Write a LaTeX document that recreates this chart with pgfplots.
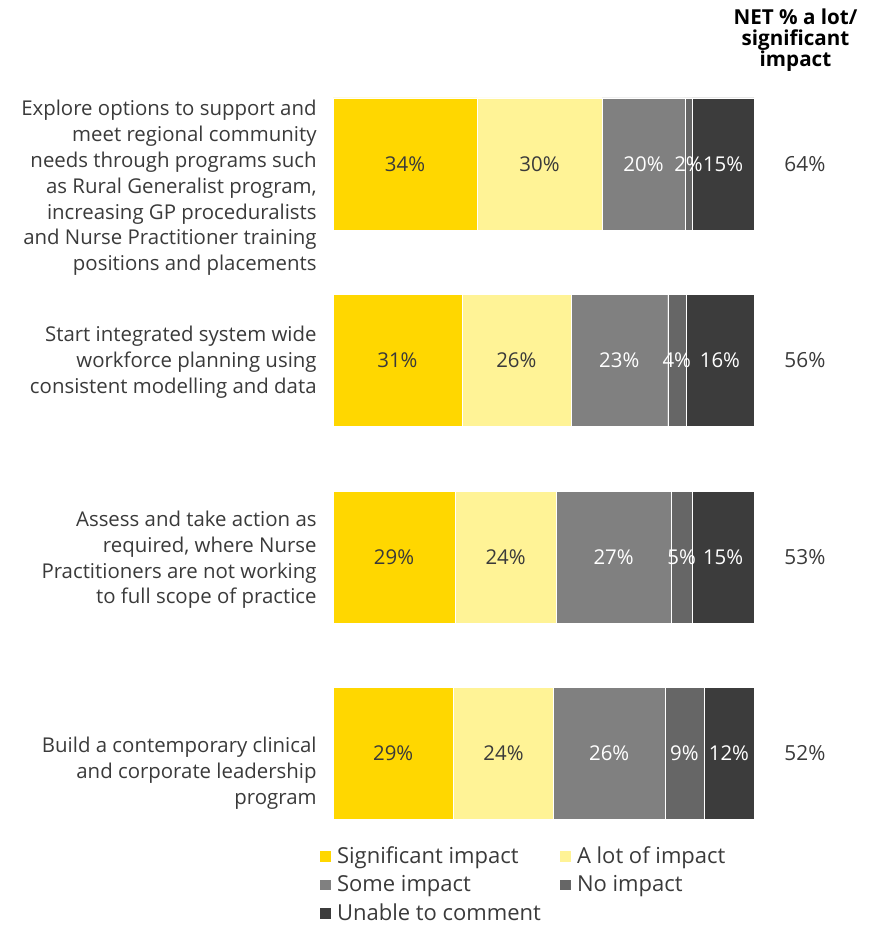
\documentclass[border=0pt]{standalone}
\usepackage{pgfplots}
\pgfplotsset{compat=1.18}
\usepackage{pgfplotstable}
\usepackage{fontspec}
\setmainfont{Open Sans}
\definecolor{sig}{HTML}{FFD700}
\definecolor{alot}{HTML}{FFF396}
\definecolor{some}{HTML}{808080}
\definecolor{noimp}{HTML}{666666}
\definecolor{unable}{HTML}{3C3C3C}
\definecolor{txt}{HTML}{3A3A3A}

\pgfplotstableread{
y sig alot some none unable
0 34.2 29.7 19.7 1.7 14.7
1 30.6 25.9 23.0 4.3 16.2
2 29.0 24.0 27.3 5.0 14.7
3 28.6 23.8 26.4 9.3 11.9
}\data

\begin{document}
\begin{tikzpicture}
\useasboundingbox (0,0) rectangle (438pt,462.5pt);
\begin{axis}[
  at={(166.5pt,36.625pt)}, anchor=south west,
  scale only axis, width=210.5pt, height=393pt,
  xbar stacked, bar width=66pt,
  xmin=0, xmax=100, ymin=-0.5, ymax=3.5, y dir=reverse,
  axis line style={draw=none}, major tick length=0pt,
  xtick=\empty,
  ytick={0.122,1.01,2.015,3.1},
  yticklabels={{Explore options to support and\\meet regional community\\needs through programs such\\as Rural Generalist program,\\increasing GP proceduralists\\and Nurse Practitioner training\\positions and placements},
    {Start integrated system wide\\workforce planning using\\consistent modelling and data},
    {Assess and take action as\\required, where Nurse\\Practitioners are not working\\to full scope of practice},
    {Build a contemporary clinical\\and corporate leadership\\program}},
  yticklabel style={align=right, font=\fontsize{10.2}{12.9}\selectfont, text=txt, inner sep=0pt, xshift=-8pt},
  clip=false,
  /pgf/number format/assume math mode=true,
  point meta=rawx,
  nodes near coords={\pgfmathprintnumber[fixed,precision=0,assume math mode=true]{\pgfplotspointmeta}\%},
  every node near coord/.append style={anchor=center, inner sep=0pt, font=\fontsize{10.2}{12}\selectfont, text=txt},
  legend columns=2,
  legend cell align=left,
  legend image code/.code={\fill[#1] (0pt,-2.6pt) rectangle (5.8pt,3.0pt);},
  legend style={draw=none, fill=none, font=\fontsize{11}{12}\selectfont, text=txt,
    at={(rel axis cs:-0.034,0.012)}, anchor=north west, inner sep=0pt, row sep=0.5pt,
    nodes={inner xsep=3pt},
    /tikz/every even column/.append style={column sep=6pt}},
]
\addplot[fill=sig, draw=white, line width=0.2pt] table[x=sig,y=y] {\data};
\addlegendentry{Significant impact}
\addplot[fill=alot, draw=white, line width=0.2pt] table[x=alot,y=y] {\data};
\addlegendentry{A lot of impact}
\addplot[fill=some, draw=white, line width=0.2pt, every node near coord/.append style={text=white}] table[x=some,y=y] {\data};
\addlegendentry{Some impact}
\addplot[fill=noimp, draw=white, line width=0.2pt, every node near coord/.append style={text=white}] table[x=none,y=y] {\data};
\addlegendentry{No impact}
\addplot[fill=unable, draw=white, line width=0.2pt, every node near coord/.append style={text=white}] table[x=unable,y=y] {\data};
\addlegendentry{Unable to comment}
\node[font=\fontsize{10.4}{12}\selectfont, text=txt] at (axis cs:112.1,0) {64\%};
\node[font=\fontsize{10.4}{12}\selectfont, text=txt] at (axis cs:112.1,1) {56\%};
\node[font=\fontsize{10.4}{12}\selectfont, text=txt] at (axis cs:112.1,2) {53\%};
\node[font=\fontsize{10.4}{12}\selectfont, text=txt] at (axis cs:112.1,3) {52\%};
\node[font=\bfseries\fontsize{10.3}{10.6}\selectfont, align=center, text=black] at (axis cs:109.85,-0.63) {NET \% a lot/\\significant\\impact};
\end{axis}
\end{tikzpicture}
\end{document}
